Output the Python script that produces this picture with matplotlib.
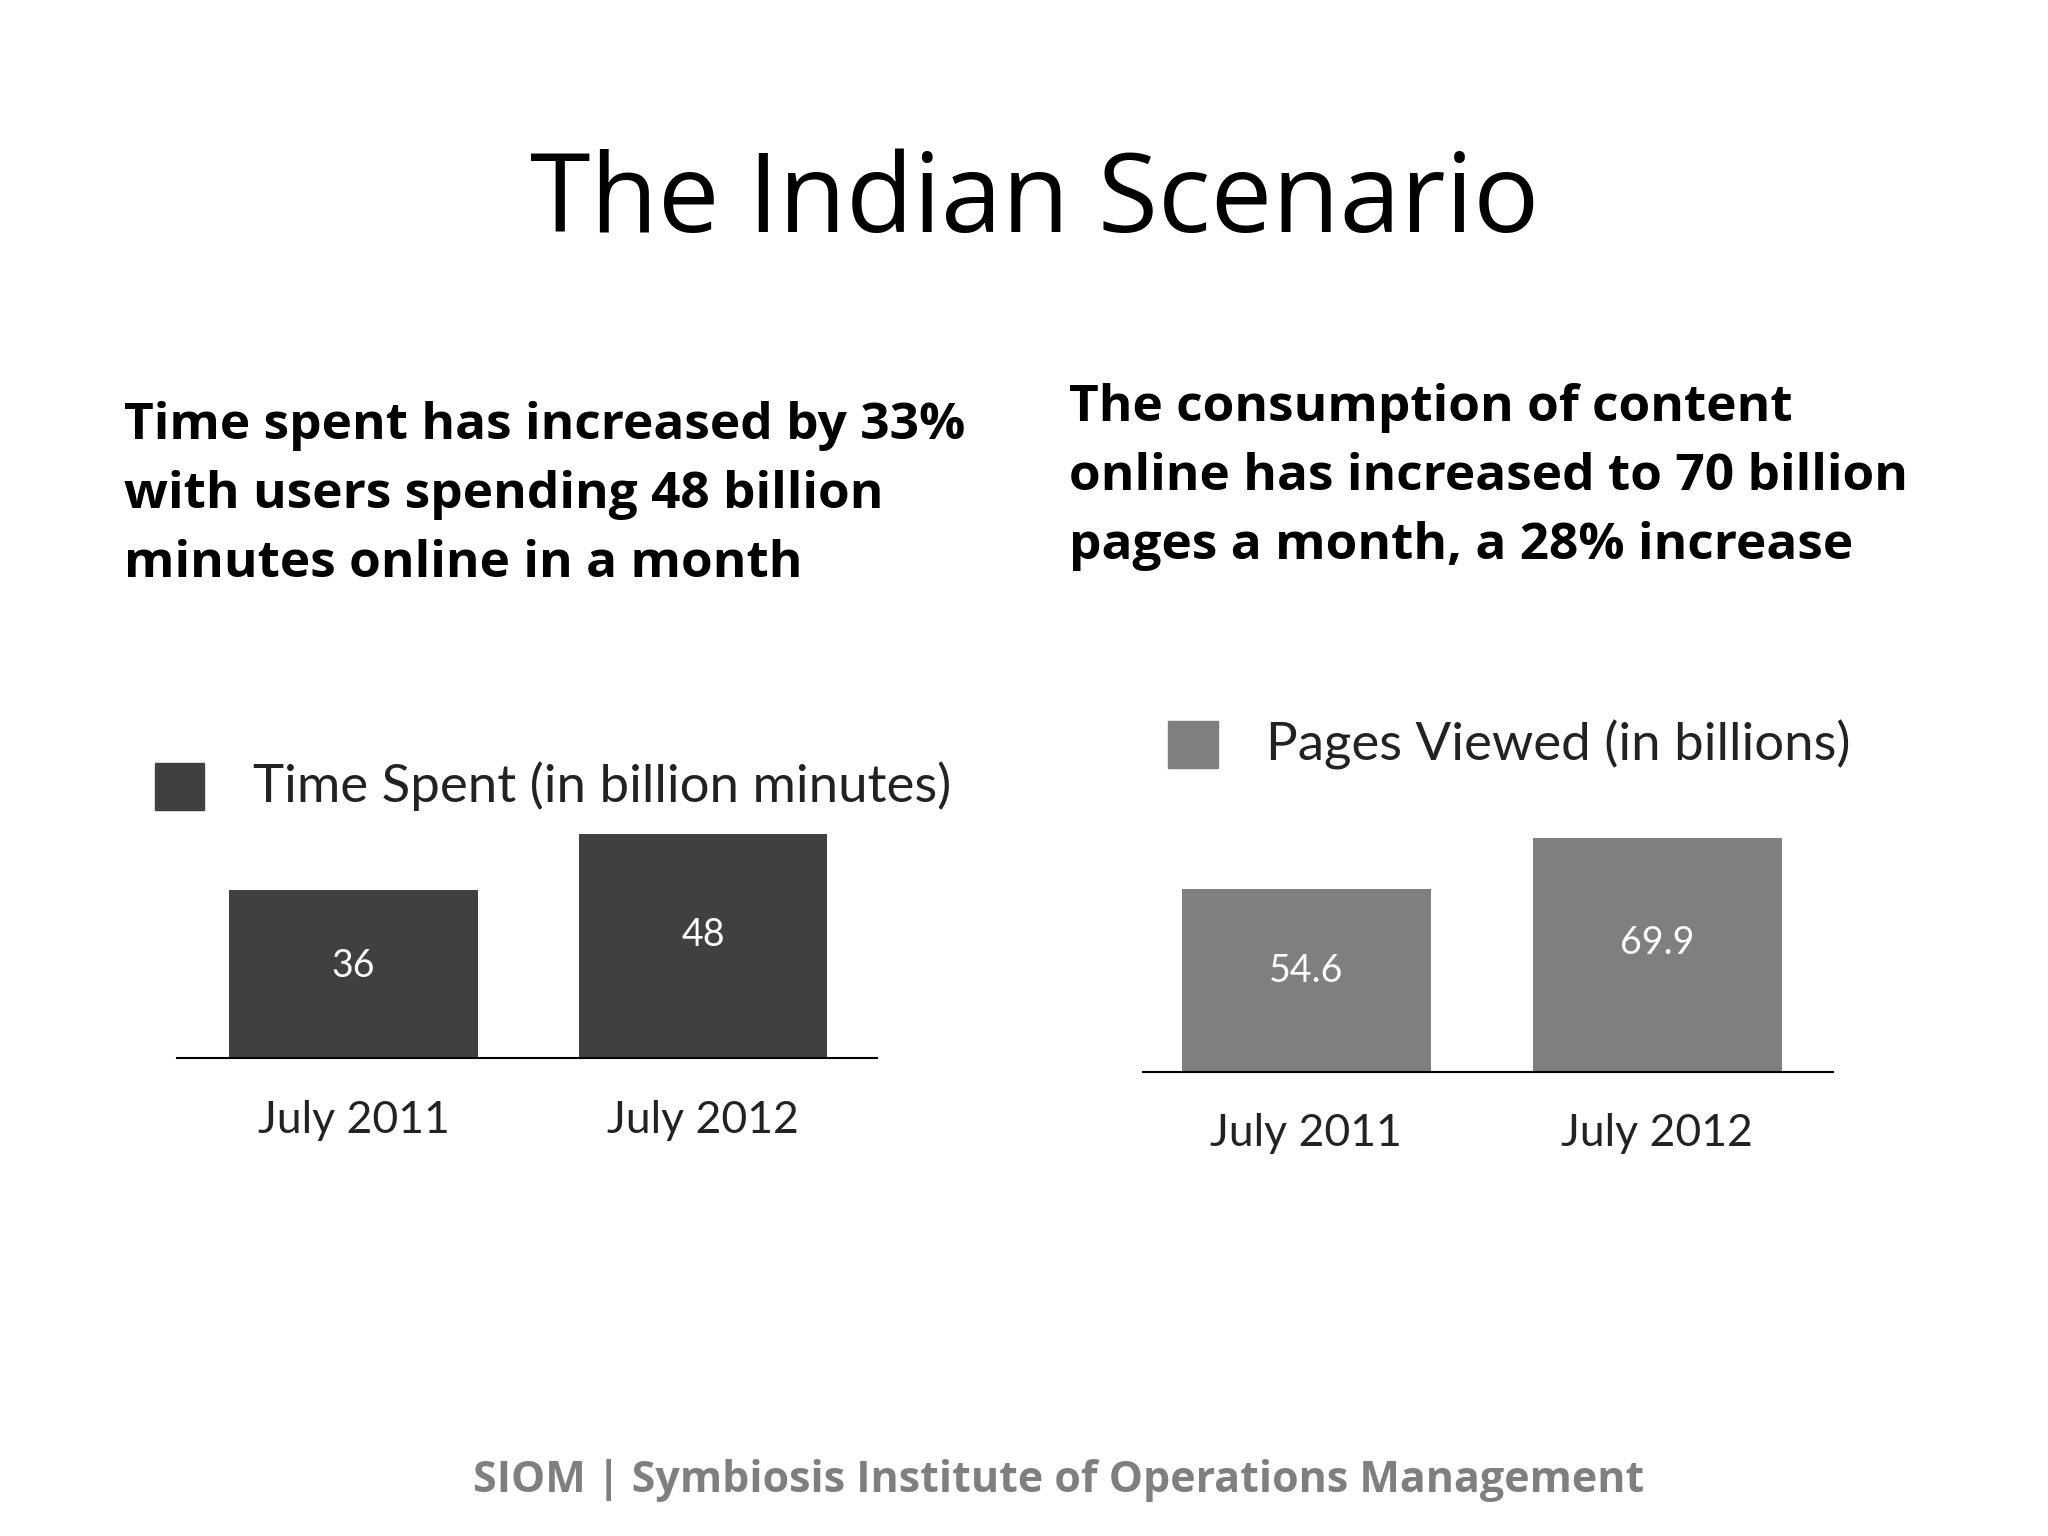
import matplotlib
matplotlib.use("Agg")
import matplotlib.pyplot as plt
from matplotlib.patches import Rectangle

categories = ["July 2011", "July 2012"]
time_spent = [36, 48]
pages_viewed = [54.6, 69.9]
time_labels = ["36", "48"]
pages_labels = ["54.6", "69.9"]

W, H = 1564, 1172
fig = plt.figure(figsize=(20.48, 15.36), dpi=100)
fig.patch.set_facecolor("white")

def fx(x): return x / W
def fy(y): return 1 - y / H

body = dict(family="Open Sans", fontweight="bold", color="black", fontsize=37)
fig.text(0.505, 0.868, "The Indian Scenario", ha="center", va="center",
         family="Open Sans", fontsize=79)
fig.text(fx(95), fy(378), "Time spent has increased by 33%\nwith users spending 48 billion\nminutes online in a month",
         ha="left", va="center", linespacing=1.5, **body)
fig.text(fx(816), fy(364), "The consumption of content\nonline has increased to 70 billion\npages a month, a 28% increase",
         ha="left", va="center", linespacing=1.5, **body)
fig.text(0.517, 0.036, "SIOM | Symbiosis Institute of Operations Management",
         ha="center", va="center", family="Open Sans", fontweight="bold",
         color="#7f7f7f", fontsize=31)

def chart(x0, x1, ybase, scale, ymax, c0, sep, vals, labels, color, legend, lx, ly, lab_dy):
    ytop = ybase - scale * ymax
    ax = fig.add_axes([fx(x0), fy(ybase), fx(x1) - fx(x0), (ybase - ytop) / H])
    ax.set_xlim((x0 - c0) / sep, (x1 - c0) / sep)
    ax.set_ylim(0, ymax)
    ax.bar(range(len(vals)), vals, width=0.71, color=color)
    for i, (v, t) in enumerate(zip(vals, labels)):
        ax.text(i, v * 0.55, t, ha="center", va="center", color="white",
                family="Lato", fontsize=27)
        ax.text(i, -lab_dy, categories[i], ha="center", va="center",
                family="Lato", fontsize=32, color="#222222", clip_on=False)
    for s in ["top", "right", "left"]:
        ax.spines[s].set_visible(False)
    ax.spines["bottom"].set_linewidth(1.5)
    ax.set_xticks([]); ax.set_yticks([])
    ax.patch.set_alpha(0)
    fig.patches.append(Rectangle((fx(lx), fy(ly + 36)), 38 / W, 36 / H,
                                 transform=fig.transFigure, color=color))
    fig.text(fx(lx + 75), fy(ly + 18), legend, ha="left", va="center",
             family="Lato", fontsize=38, color="#222222")

chart(135, 670, 807, 3.55, 60, 270, 267, time_spent, time_labels, "#404040",
      "Time Spent (in billion minutes)", 118, 582, 48 / 3.55)
chart(873, 1400, 818, 2.56, 80, 997.5, 268, pages_viewed, pages_labels, "#7f7f7f",
      "Pages Viewed (in billions)", 892, 550, 47 / 2.56)

fig.savefig("out.png", dpi=100)
